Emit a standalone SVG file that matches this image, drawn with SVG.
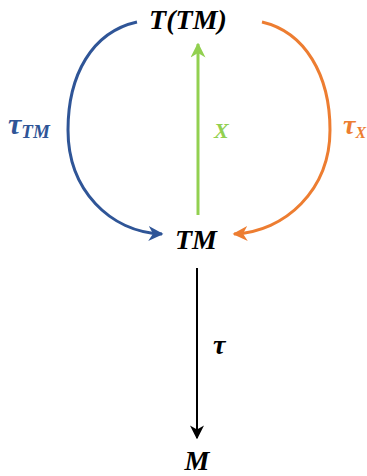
<svg xmlns="http://www.w3.org/2000/svg" width="367" height="476" viewBox="0 0 367 476">
<style>
.t{font-family:"Liberation Serif","DejaVu Serif",serif;font-weight:bold;font-style:italic;}
.c{fill:none;stroke-width:3;}
</style>
<defs>
<marker id="ab" viewBox="0 0 10 10" refX="9" refY="5" markerWidth="5" markerHeight="5" orient="auto" markerUnits="strokeWidth"><path d="M0,0 L10,5 L0,10 L3,5 z" fill="#2f5597"/></marker>
<marker id="ao" viewBox="0 0 10 10" refX="9" refY="5" markerWidth="5" markerHeight="5" orient="auto" markerUnits="strokeWidth"><path d="M0,0 L10,5 L0,10 L3,5 z" fill="#ed7d31"/></marker>
<marker id="ag" viewBox="0 0 10 10" refX="9" refY="5" markerWidth="5" markerHeight="5" orient="auto" markerUnits="strokeWidth"><path d="M0,0 L10,5 L0,10 L3,5 z" fill="#92d050"/></marker>
<marker id="ak" viewBox="0 0 10 10" refX="9" refY="5" markerWidth="7" markerHeight="7" orient="auto" markerUnits="strokeWidth"><path d="M0,0 L10,5 L0,10 L3,5 z" fill="#000"/></marker>
</defs>
<rect width="367" height="476" fill="#fff"/>
<g id="connectors">
<path class="c" stroke="#2f5597" d="M137,22 C92,32 68,75 68,130 C68,190 110,232 162,234" marker-end="url(#ab)"/>
<path class="c" stroke="#ed7d31" d="M262,22 C305,32 330,75 330,130 C330,190 285,232 234,234" marker-end="url(#ao)"/>
<path class="c" stroke="#92d050" d="M198,215 L198,44" marker-end="url(#ag)"/>
<path fill="none" stroke="#000" stroke-width="2" d="M197,268 L197,438" marker-end="url(#ak)"/>
</g>
<g id="node-TTM"><text class="t" x="188" y="29" font-size="28" text-anchor="middle">T(TM)</text></g>
<g id="node-TM"><text class="t" x="196" y="249" font-size="28" text-anchor="middle">TM</text></g>
<g id="node-M"><text class="t" x="197" y="470" font-size="28" text-anchor="middle">M</text></g>
<g id="labels">
<text class="t" x="8" y="134" font-size="30" fill="#2f5597">τ<tspan font-size="19" dy="4">TM</tspan></text>
<text class="t" x="343" y="134" font-size="28" fill="#ed7d31">τ<tspan font-size="16" dy="4">X</tspan></text>
<text class="t" x="214" y="138" font-size="22" fill="#92d050">X</text>
<text class="t" x="213" y="354" font-size="28">τ</text>
</g>
</svg>
